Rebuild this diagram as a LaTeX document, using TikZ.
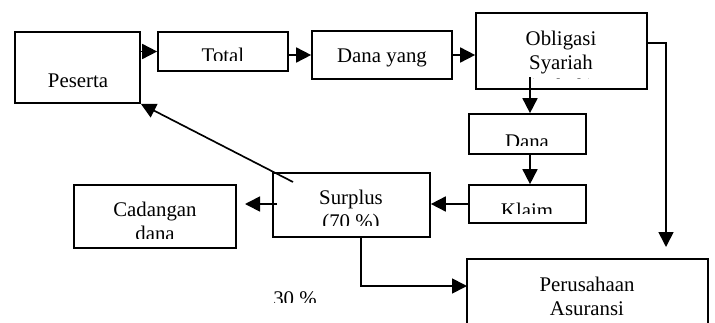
\documentclass[tikz,border=0pt]{standalone}
\usepackage{fontspec}
\setmainfont{Liberation Serif}
\usetikzlibrary{arrows.meta,fit}
\begin{document}
\begin{tikzpicture}[x=0.6pt,y=-0.6pt,
  box/.style={draw,line width=1pt,inner sep=0pt},
  lbl/.style={anchor=base,inner sep=0pt,font=\fontsize{12.5}{14.4}\selectfont,align=center},
  arr/.style={line width=1pt,-{Triangle[length=9pt,width=9pt]}},
  ln/.style={line width=1pt}]
\useasboundingbox (0,0) rectangle (715,322);
% boxes
\node[box,fit={(15,32)(140,103)}] (peserta) {};
\node[box,fit={(158,32)(288,71)}] (total) {};
\node[box,fit={(312,31)(452,79)}] (danayang) {};
\node[box,fit={(476,13)(647,89)}] (obligasi) {};
\node[box,fit={(469,114)(586,154)}] (dana) {};
\node[box,fit={(469,185)(586,223)}] (klaim) {};
\node[box,fit={(273,173)(430,237)}] (surplus) {};
\node[box,fit={(74,185)(236,248)}] (cadangan) {};
\node[box,fit={(467,259)(708,340)}] (perusahaan) {};
% texts (clipped as in the reference); multi-line texts are placed by their last baseline
\node[lbl] (tpeserta) at (78,87) {Peserta};
\begin{scope}\clip (158,32) rectangle (288,60);
\node[lbl] (ttotal) at (223,62) {Total};\end{scope}
\node[lbl] (tdanayang) at (382,62) {Dana yang};
\begin{scope}\clip (476,13) rectangle (647,78.5);
\node[lbl] (tobl) at (561,93) {Obligasi\\Syariah\\(Sukuk)};\end{scope}
\begin{scope}\clip (469,114) rectangle (586,145);
\node[lbl] (tdana) at (527,148) {Dana};\end{scope}
\begin{scope}\clip (469,185) rectangle (586,213);
\node[lbl] (tklaim) at (527,217) {Klaim};\end{scope}
\begin{scope}\clip (273,173) rectangle (430,225);
\node[lbl] (tsurplus) at (351,228) {Surplus\\(70 \%)};\end{scope}
\begin{scope}\clip (74,185) rectangle (236,238);
\node[lbl] (tcad) at (155,240) {Cadangan\\dana};\end{scope}
\begin{scope}\clip (250,270) rectangle (340,302);
\node[lbl] (t30) at (295,305) {30 \%};\end{scope}
\node[lbl] (tper) at (587,315) {Perusahaan\\Asuransi};
% connector points
\coordinate (o1) at (530,77);
\coordinate (o2) at (647,43);
\coordinate (o3) at (666,247);
\coordinate (s1) at (277,204);
\coordinate (c1) at (245,204);
\coordinate (s0) at (293,182);
\coordinate (s2) at (361,237);
\coordinate (p1) at (467,286);
% connectors
\draw[arr] (peserta.east |- total.west) -- (total.west);
\draw[arr] (total.east |- danayang.west) -- (danayang.west);
\draw[arr] (danayang.east) -- (danayang.east -| obligasi.west);
\draw[arr] (o1) -- (o1 |- dana.north);
\draw[arr] (o1 |- dana.south) -- (o1 |- klaim.north);
\draw[arr] (klaim.west) -- (klaim.west -| surplus.east);
\draw[arr] (s1) -- (c1);
\draw[arr] (s0) -- (peserta.south east);
\draw[arr] (o2) -| (o3);
\draw[arr] (s2) |- (p1);
\end{tikzpicture}
\end{document}
